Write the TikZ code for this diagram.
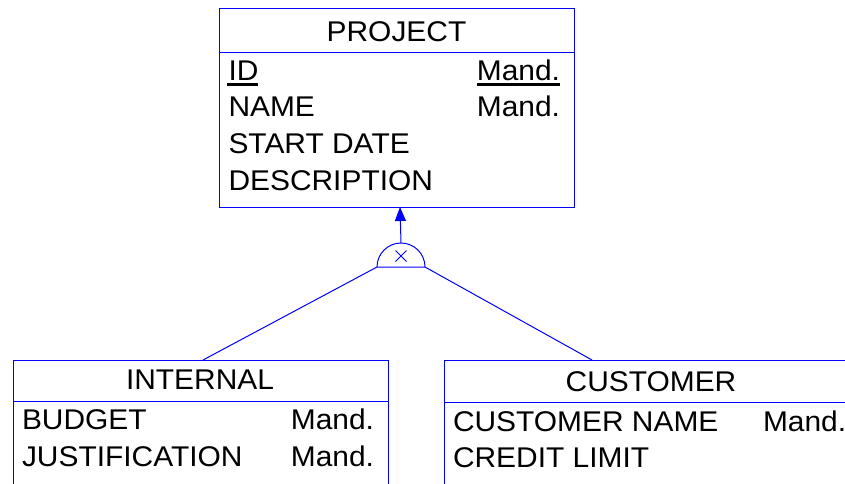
\documentclass[tikz,border=0pt]{standalone}
\usepackage{fontspec}
\setmainfont{Liberation Sans}[FakeStretch=1.05]
\usetikzlibrary{arrows.meta}
\begin{document}
\begin{tikzpicture}[x=1pt,y=-1pt,
  er/.style={draw=blue,line width=1pt},
  txt/.style={inner sep=0pt,outer sep=0pt,font=\fontsize{28.5}{34}\selectfont,text=black},
  attr/.style={txt,anchor=base west},
  mand/.style={txt,anchor=base east},
  mandl/.style={txt,anchor=base west},
  ttl/.style={txt,anchor=base},
  uline/.style={line width=2.3pt,black}]
\useasboundingbox (0,0) rectangle (845,483);
% PROJECT entity
\draw[er] (219,8) rectangle (574,207);
\draw[er] (219,52) -- (574,52);
\node[ttl] (ptitle) at (396.5,41) {PROJECT};
\node[attr] (pid) at (228.5,80) {ID};
\node[mand] (pidm) at (560,80) {Mand.};
\draw[uline] ([yshift=-4.5pt,xshift=-1.5pt]pid.base west) -- ([yshift=-4.5pt]pid.base east);
\draw[uline] ([yshift=-4.5pt]pidm.base west) -- ([yshift=-4.5pt]pidm.base east);
\node[attr] (pname) at (228.5,116.7) {NAME};
\node[mand] (pnamem) at (560,116.7) {Mand.};
\node[attr] (pstart) at (228.5,153.3) {START DATE};
\node[attr] (pdesc) at (228.5,190) {DESCRIPTION};
% INTERNAL entity
\draw[er] (13,485) -- (13,360) -- (388,360) -- (388,485);
\draw[er] (13,401) -- (388,401);
\node[ttl] (ititle) at (200,389) {INTERNAL};
\node[attr] (ibud) at (22,429) {BUDGET};
\node[mand] (ibudm) at (374,429) {Mand.};
\node[attr] (ijus) at (22,466.5) {JUSTIFICATION};
\node[mand] (ijusm) at (374,466.5) {Mand.};
% CUSTOMER entity
\draw[er] (444,485) -- (444,360) -- (850,360);
\draw[er] (444,402) -- (850,402);
\node[ttl] (ctitle) at (651,391.5) {CUSTOMER};
\node[attr] (cname) at (453,431) {CUSTOMER NAME};
\node[mandl] (cnamem) at (763,431) {Mand.};
\node[attr] (ccred) at (453,467.7) {CREDIT LIMIT};
% subtype symbol
\coordinate (projbot) at (400,207);
\coordinate (symtop) at (401,243);
\coordinate (symL) at (377,267);
\coordinate (symR) at (425,267);
\coordinate (inttop) at (203,360);
\coordinate (custtop) at (592,360);
\draw[er] (symL) arc[start angle=180,end angle=360,radius=24] -- cycle;
\draw[blue,line width=0.8pt] (395.5,250.5) -- (406.5,261.5) (406.5,250.5) -- (395.5,261.5);
\draw[er,-{Triangle[width=11pt,length=14pt]}] (symtop) -- (projbot);
\draw[er] (symL) -- (inttop);
\draw[er] (symR) -- (custtop);
\end{tikzpicture}
\end{document}
